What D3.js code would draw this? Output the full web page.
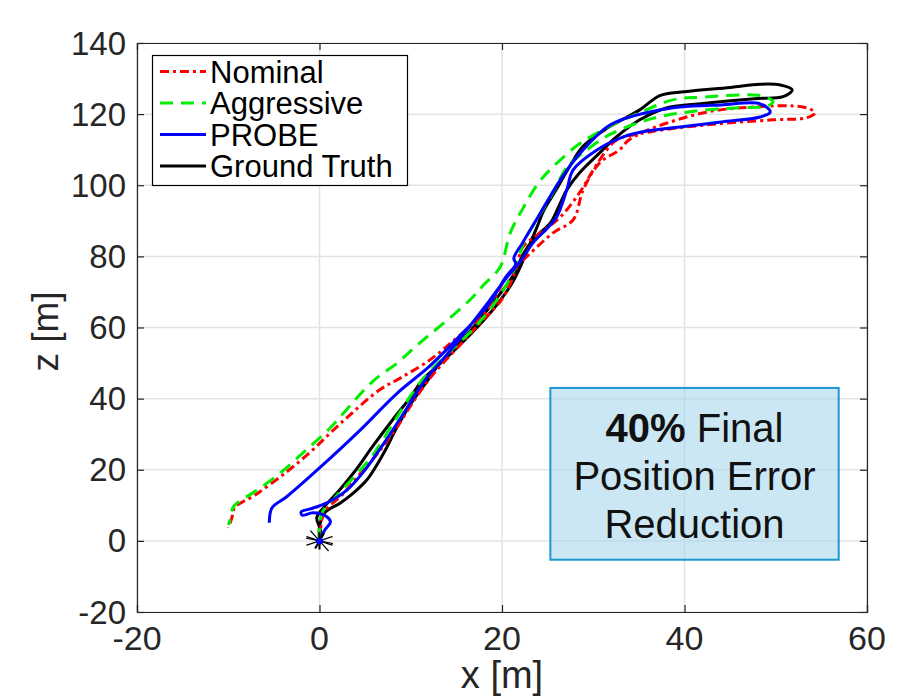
<!DOCTYPE html>
<html><head><meta charset="utf-8">
<script src="https://cdn.jsdelivr.net/npm/d3@7"></script>
<style>body{margin:0;background:#fff}</style>
</head><body>
<svg id="c" width="911" height="699"></svg>
<script>
const xTicks = [-20, 0, 20, 40, 60];
const zTicks = [-20, 0, 20, 40, 60, 80, 100, 120, 140];
const seriesNames = ["Nominal", "Aggressive", "PROBE", "Ground Truth"];

const groundTruth = [
[0,0],[0.1,3],[-0.3,6.5],[0.5,9.5],[2.2,14.3],[4,20],[5.8,26.5],[8,34],[10,40.5],[11.3,45.3],[13.5,50.5],[16.5,58],[19,65],[21,72],[22,77],[22.8,82],[23.8,88],[24.6,93],[26,99],[27.4,105.2],[28.9,111],[31.5,116],[35.1,121.2],[37.3,125.2],[40,126.3],[45,127.5],[48.3,128.4],[50.5,128.2],[51.8,126.8],[50.8,124.9],[48,124.4],[42,123],[38.1,121.8],[35.1,118.4],[32.5,113.5],[30.7,109.1],[28.5,103.5],[27.1,98.7],[26.3,94.5],[25.3,89.4],[23.5,85],[22.3,80.5],[21.3,75],[19.8,69.5],[17.8,63],[15.5,56],[13.2,50],[11.9,45.3],[10,38.5],[8.5,32],[7.4,26.4],[6.2,21],[5.2,17.2],[3.5,13],[2.2,10.5],[0.6,8],[0,4],[0,0.5]
];

const probe = [
[0,0],[0.6,3.1],[1.2,5.3],[0.8,6.8],[-0.7,7.9],[-1.9,7.2],[-2,8.2],[-1,9],[0.8,10.7],[3,14.3],[5,20],[7.2,28],[9.5,37],[11.5,45],[14,52.5],[16.5,60.5],[18.6,67.5],[20.5,74],[22,78.5],[23.4,83.8],[25,88],[26,91.1],[27.1,98.7],[27.8,104.3],[30.4,109.9],[33.3,113.6],[36,115.3],[39.5,116.4],[44,117.8],[48.3,119.2],[49.4,120.6],[48.3,122.9],[44,122.6],[39.5,122],[36.2,120.6],[33.5,118.8],[31.5,116.4],[28.9,110],[26.9,103.5],[25.3,97],[23.7,90],[22.3,84],[21.3,79.5],[21.5,77.8],[20.5,74.5],[18.4,66],[15.7,58.5],[12.1,49.2],[8.5,41.5],[4.4,31],[0,20.5],[-3.6,12.4],[-5.2,9.3],[-5.5,5.1]
];

const nominal = [
[0,0],[0.1,3],[0.5,8],[2.5,13],[4.5,19],[6.5,25],[8.5,32],[10.5,40],[12.5,47],[15,54],[17.5,61],[20,68],[21.5,76],[22.3,82.7],[24.2,86.6],[26.4,91.1],[28.5,97.9],[30,104.3],[31.5,110],[32.6,112.8],[36.2,115],[42.5,117],[49.7,118.4],[53.4,119],[54.3,120.4],[53,122],[47.5,122],[42.5,120.6],[38.1,117.5],[35.5,115],[33.8,112.5],[32.9,110],[30.7,106.3],[28.9,98.7],[27.8,90.3],[25.6,86.6],[22.7,79.9],[20.5,74.2],[18.4,65],[15,57],[12.1,50.9],[9,46],[6.6,42.5],[3.5,35.8],[1.2,30.4],[-1,25],[-3.6,19.4],[-7,13],[-9.3,9.3],[-9.6,6.5],[-10,3.7]
];

const aggressive = [
[0,0],[0,3],[0.3,8],[1.8,12.5],[3.8,18],[5.8,24],[8.1,33.2],[9.9,40.5],[11.5,46],[14,52.5],[17,60],[19.5,68],[21.3,76],[22.5,84.6],[24.2,92],[25.6,98],[27.1,105],[29.6,110.5],[32,114.5],[36.5,118.8],[41,120.8],[46.1,121.8],[49,122.2],[49.7,123.5],[48.7,125],[47.5,125.4],[42,124.8],[38.7,124],[35.1,120.4],[33.3,118.4],[30.5,114.8],[28.3,111.3],[25.6,105.2],[24,100.7],[22.3,93.5],[20.9,86.6],[19.8,77],[18,72],[16.5,67.8],[13.5,61],[11,55.7],[8.5,50],[5.9,45],[3.5,38.5],[1.2,31.8],[-1.5,25.5],[-4.3,19.1],[-7,14],[-9,10.7],[-9.5,9.3],[-9.8,5.9],[-10,4.5]
];

const startPoint = [0, 0];
const annotation = {bold: "40%", lines: [" Final", "Position Error", "Reduction"]};

const svg = d3.select("#c");
const L = 137, R = 867, T = 43, B = 612;
const x = d3.scaleLinear().domain([-20, 60]).range([L, R]);
const y = d3.scaleLinear().domain([-20, 140]).range([B, T]);
const font = "'Liberation Sans', Arial, Helvetica, sans-serif";
const textCol = "#262626";

// grid
const grid = svg.append("g");
grid.selectAll(".gx").data(xTicks).join("line")
  .attr("x1", d => x(d)).attr("x2", d => x(d)).attr("y1", T).attr("y2", B)
  .attr("stroke", "#e3e3e3").attr("stroke-width", 1.5);
grid.selectAll(".gy").data(zTicks).join("line")
  .attr("y1", d => y(d)).attr("y2", d => y(d)).attr("x1", L).attr("x2", R)
  .attr("stroke", "#e3e3e3").attr("stroke-width", 1.5);

// axes (inward ticks)
const axB = svg.append("g").attr("transform", `translate(0,${B})`)
  .call(d3.axisBottom(x).tickValues(xTicks).tickSize(-7).tickFormat(""));
const axT = svg.append("g").attr("transform", `translate(0,${T})`)
  .call(d3.axisTop(x).tickValues(xTicks).tickSize(-7).tickFormat(""));
const axL = svg.append("g").attr("transform", `translate(${L},0)`)
  .call(d3.axisLeft(y).tickValues(zTicks).tickSize(-7).tickFormat(""));
const axR = svg.append("g").attr("transform", `translate(${R},0)`)
  .call(d3.axisRight(y).tickValues(zTicks).tickSize(-7).tickFormat(""));
[axB, axT, axL, axR].forEach(a => {
  a.select(".domain").attr("stroke", textCol).attr("stroke-width", 1.2);
  a.selectAll(".tick line").attr("stroke", textCol).attr("stroke-width", 1.2);
});

// tick labels
svg.selectAll(".xl").data(xTicks).join("text")
  .attr("x", d => x(d)).attr("y", B + 38)
  .attr("text-anchor", "middle").attr("font-family", font).attr("font-size", 34)
  .attr("fill", textCol).text(d => d);
svg.selectAll(".yl").data(zTicks).join("text")
  .attr("x", L - 11).attr("y", d => y(d) + 11.5)
  .attr("text-anchor", "end").attr("font-family", font).attr("font-size", 33)
  .attr("fill", textCol).text(d => d);

// axis titles
svg.append("text").attr("x", (L + R) / 2).attr("y", 688)
  .attr("text-anchor", "middle").attr("font-family", font).attr("font-size", 38)
  .attr("fill", textCol).text("x [m]");
svg.append("text").attr("transform", `translate(58,${(T + B) / 2 + 4}) rotate(-90)`)
  .attr("text-anchor", "middle").attr("font-family", font).attr("font-size", 37)
  .attr("fill", textCol).text("z [m]");

// annotation box
const boxX0 = x(25.3), boxX1 = x(56.9), boxY0 = y(43), boxY1 = y(-5.3);
svg.append("rect").attr("x", boxX0).attr("y", boxY0)
  .attr("width", boxX1 - boxX0).attr("height", boxY1 - boxY0)
  .attr("fill", "#a6d6ec").attr("fill-opacity", 0.58)
  .attr("stroke", "#1b97d4").attr("stroke-width", 2);
const cx = (boxX0 + boxX1) / 2;
const t1 = svg.append("text").attr("x", cx).attr("y", boxY0 + 54)
  .attr("text-anchor", "middle").attr("font-family", font).attr("font-size", 40).attr("fill", "#111");
t1.append("tspan").attr("font-weight", "bold").text(annotation.bold);
t1.append("tspan").text(annotation.lines[0]);
svg.append("text").attr("x", cx).attr("y", boxY0 + 102)
  .attr("text-anchor", "middle").attr("font-family", font).attr("font-size", 40).attr("fill", "#111")
  .text(annotation.lines[1]);
svg.append("text").attr("x", cx).attr("y", boxY0 + 150)
  .attr("text-anchor", "middle").attr("font-family", font).attr("font-size", 40).attr("fill", "#111")
  .text(annotation.lines[2]);

// lines
const line = d3.line().x(d => x(d[0])).y(d => y(d[1])).curve(d3.curveCatmullRom.alpha(0.5));
const styles = {
  "Nominal": {data: nominal, color: "#ff0000", dash: "9,4,3,4"},
  "Aggressive": {data: aggressive, color: "#00ee00", dash: "13,8"},
  "PROBE": {data: probe, color: "#0000ff", dash: null},
  "Ground Truth": {data: groundTruth, color: "#000000", dash: null}
};
const drawOrder = ["Ground Truth", "Nominal", "Aggressive", "PROBE"];
drawOrder.forEach(n => {
  const s = styles[n];
  svg.append("path").datum(s.data).attr("d", line)
    .attr("fill", "none").attr("stroke", s.color).attr("stroke-width", 3)
    .attr("stroke-linejoin", "round")
    .attr("stroke-dasharray", s.dash);
});

// start markers
const sx = x(startPoint[0]), sy = y(startPoint[1]);
[0, 30].forEach(a => {
  svg.append("path").attr("d", d3.symbol(d3.symbolAsterisk, 380)())
    .attr("transform", `translate(${sx},${sy}) rotate(${a}) scale(1.3,0.75)`)
    .attr("fill", "none").attr("stroke", "#000").attr("stroke-width", 1.6);
});
svg.append("circle").attr("cx", sx).attr("cy", sy).attr("r", 3.5).attr("fill", "#0000ff");

// legend
const lg = svg.append("g");
lg.append("rect").attr("x", 152.5).attr("y", 55.5).attr("width", 255).attr("height", 130)
  .attr("fill", "#fff").attr("stroke", "#000").attr("stroke-width", 1.2);
seriesNames.forEach((n, i) => {
  const cy = 71.5 + i * 31.5;
  const s = styles[n];
  lg.append("line").attr("x1", 160).attr("x2", 206).attr("y1", cy).attr("y2", cy)
    .attr("stroke", s.color).attr("stroke-width", 3).attr("stroke-dasharray", s.dash);
  lg.append("text").attr("x", 210).attr("y", cy + 11).attr("font-family", font)
    .attr("font-size", 31).attr("fill", "#000").text(n);
});
</script>
</body></html>
